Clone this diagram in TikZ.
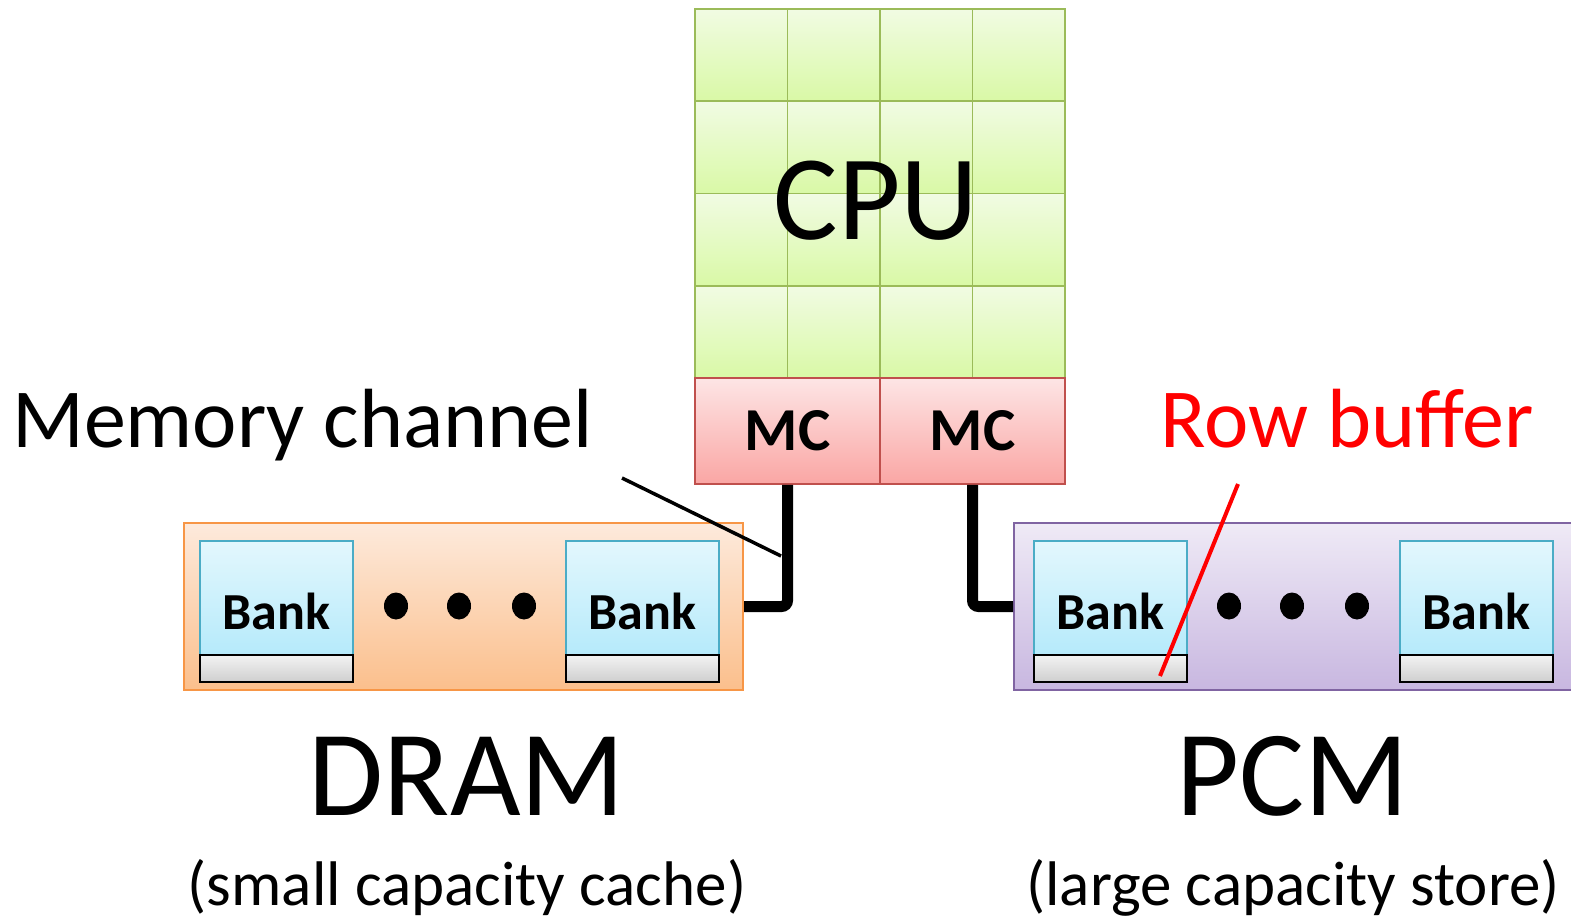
\documentclass[tikz,border=0pt]{standalone}
\usepackage{fontspec}
\setmainfont{Carlito}
\definecolor{cellTop}{HTML}{F1FBE3}
\definecolor{cellBot}{HTML}{D9F9A6}
\definecolor{cellLine}{HTML}{9BBB59}
\definecolor{mcTop}{HTML}{FDE5E5}
\definecolor{mcBot}{HTML}{FAA6A4}
\definecolor{mcLine}{HTML}{C0504D}
\definecolor{bankTop}{HTML}{E3F7FD}
\definecolor{bankBot}{HTML}{ABE7FA}
\definecolor{bankLine}{HTML}{4BACC6}
\definecolor{bufTop}{HTML}{F3F3F3}
\definecolor{bufBot}{HTML}{CFCFCF}
\definecolor{dramTop}{HTML}{FDEADC}
\definecolor{dramBot}{HTML}{FBBF8C}
\definecolor{dramLine}{HTML}{F79646}
\definecolor{pcmTop}{HTML}{EFEAF6}
\definecolor{pcmBot}{HTML}{C8B7E0}
\definecolor{pcmLine}{HTML}{8064A2}
\definecolor{rbred}{HTML}{FF0000}
\begin{document}
\begin{tikzpicture}[x=1pt,y=-1pt,
  cell/.style={draw=cellLine, line width=1.5pt, top color=cellTop, bottom color=cellBot,
    minimum width=92.5pt, minimum height=92.25pt, inner sep=0pt},
  mcbox/.style={draw=mcLine, line width=1.5pt, top color=mcTop, bottom color=mcBot,
    minimum width=185pt, minimum height=106pt, inner sep=0pt,
    font=\fontsize{61}{61}\selectfont\bfseries},
  membox/.style={line width=2pt, minimum height=167pt, inner sep=0pt},
  bankbox/.style={draw=bankLine, line width=1.5pt, top color=bankTop, bottom color=bankBot,
    minimum width=153pt, minimum height=141pt, inner sep=0pt,
    font=\fontsize{52}{52}\selectfont\bfseries},
  bufbox/.style={draw=black, line width=2pt, top color=bufTop, bottom color=bufBot,
    minimum width=153pt, minimum height=27pt, inner sep=0pt, anchor=south},
  wire/.style={line width=11pt, rounded corners=6pt},
  biglbl/.style={font=\fontsize{84}{84}\selectfont, inner sep=0pt},
  hugelbl/.style={font=\fontsize{122}{122}\selectfont, inner sep=0pt, anchor=base},
  sublbl/.style={font=\fontsize{63}{63}\selectfont, inner sep=0pt, anchor=base}
]
\useasboundingbox (0,0) rectangle (1571,920);
% CPU grid
\foreach \i in {0,1,2,3}{
  \foreach \j in {0,1,2,3}{
    \node[cell] (c\i\j) at ({695+46.25+92.5*\i},{9+46.125+92.25*\j}) {};
  }
}
\node[font=\fontsize{121}{121}\selectfont, inner sep=0pt, anchor=base] (cpu) at (876,240) {CPU};
% memory controllers
\node[mcbox] (mcL) at (787.5,431) {MC};
\node[mcbox] (mcR) at (972.5,431) {MC};
% memory modules
\node[membox, draw=dramLine, top color=dramTop, bottom color=dramBot, minimum width=559pt] (dram) at (463.5,606.5) {};
\node[membox, draw=pcmLine, top color=pcmTop, bottom color=pcmBot, minimum width=558pt] (pcm) at (1293,606.5) {};
% banks
\node[bankbox] (db1) at (276.5,611.5) {Bank};
\node[bufbox] (dbuf1) at (db1.south) {};
\node[bankbox] (db2) at (642.5,611.5) {Bank};
\node[bufbox] (dbuf2) at (db2.south) {};
\node[bankbox] (pb1) at (1110.5,611.5) {Bank};
\node[bufbox] (pbuf1) at (pb1.south) {};
\node[bankbox] (pb2) at (1476.5,611.5) {Bank};
\node[bufbox] (pbuf2) at (pb2.south) {};
% dots
\foreach \x in {396,459,524,1229,1292,1357}{
  \fill (\x,606) ellipse [x radius=12pt, y radius=13.5pt];
}
% channels
\draw[wire] (mcL.south) |- (dram.east);
\draw[wire] (mcR.south) |- (pcm.west);
% labels
\node[biglbl, anchor=base west] (memlbl) at (12,447) {Memory channel};
\node[biglbl, anchor=base west, text=rbred] (rowlbl) at (1160,447) {Row buffer};
\coordinate (memA) at (622,478);
\coordinate (memB) at (781,556);
\draw[line width=3.5pt] (memA) -- (memB);
\coordinate (rbA) at (1238,484);
\coordinate (rbB) at (1160,676);
\draw[rbred, line width=4pt] (rbA) -- (rbB);
\node[hugelbl] (dramlbl) at (467,815) {DRAM};
\node[hugelbl] (pcmlbl) at (1293,815) {PCM};
\node[sublbl] (dramsub) at (467,905) {(small capacity cache)};
\node[sublbl] (pcmsub) at (1293,905) {(large capacity store)};
\end{tikzpicture}
\end{document}
